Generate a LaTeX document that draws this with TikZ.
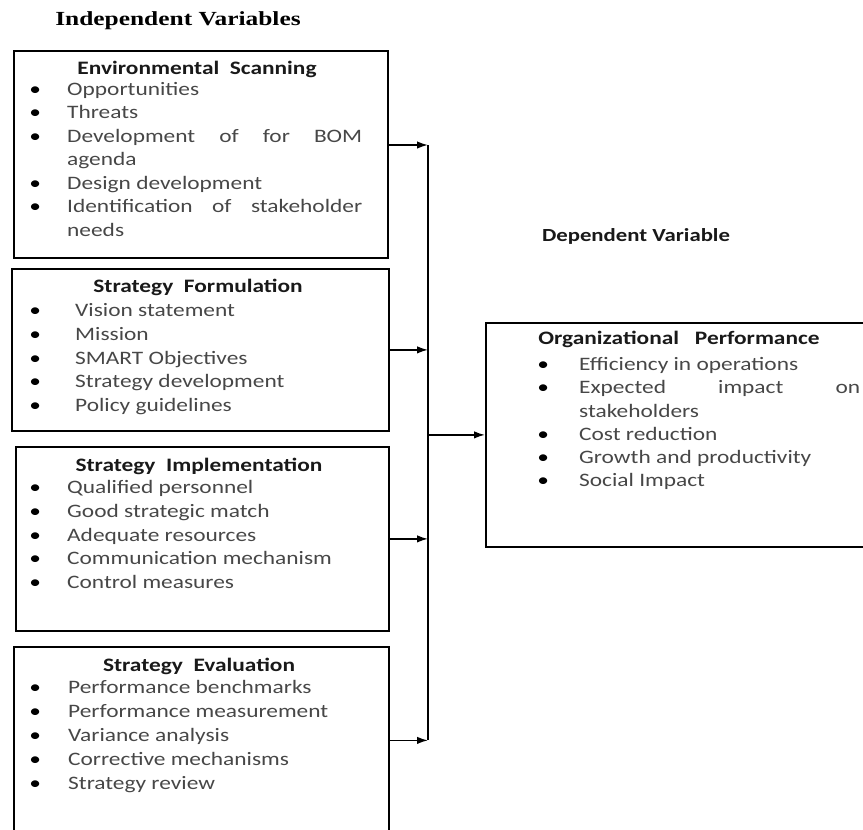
\documentclass[tikz,border=0pt]{standalone}
\usepackage{fontspec}
\newfontfamily\bodyf{Carlito}[FakeStretch=1.23]
\newfontfamily\headf{Liberation Serif}[FakeStretch=1.27]
\usetikzlibrary{arrows.meta}
\newcommand\bul[1][32pt]{\noindent\llap{\makebox[0pt]{\textcolor{black}{\textbullet}}\hspace{#1}}}
\begin{document}
\begin{tikzpicture}[x=1pt,y=-1pt,
  box/.style={draw=black, line width=1.8pt, inner sep=0pt, anchor=north west},
  items/.style={anchor=north west, inner sep=0pt, align=justify, text=black!72,
    font=\bodyf\fontsize{19}{#1}\selectfont},
  ttl/.style={anchor=base, inner sep=0pt, text=black!90, font=\bodyf\bfseries\fontsize{19}{23}\selectfont},
  conn/.style={line width=1.6pt, -{Latex[length=11pt,width=7.5pt]}},
  trunk/.style={line width=1.6pt}]
\useasboundingbox (0,0) rectangle (863,830);
\clip (0,0) rectangle (863,830);

\node[anchor=base, inner sep=0pt, font=\headf\bfseries\fontsize{20}{24}\selectfont] (iv) at (178,25) {Independent Variables};
\node[anchor=base, inner sep=0pt, text=black!90, font=\bodyf\bfseries\fontsize{18.5}{22}\selectfont] (dv) at (636,241) {Dependent Variable};

% boxes
\node[box, minimum width=374pt, minimum height=207pt] (b1) at (13,50) {};
\node[box, minimum width=377pt, minimum height=162pt] (b2) at (11,268) {};
\node[box, minimum width=373pt, minimum height=184pt] (b3) at (15,446) {};
\node[box, minimum width=375pt, minimum height=187pt] (b4) at (13,646) {};
\node[box, minimum width=385pt, minimum height=224pt] (org) at (485,322) {};

% titles
\node[ttl] (t1) at (197,74.5) {Environmental\ \ Scanning};
\node[ttl] (t2) at (198,292.5) {Strategy\ \ Formulation};
\node[ttl] (t3) at (199,471.5) {Strategy\ \ Implementation};
\node[ttl] (t4) at (199,671.5) {Strategy\ \ Evaluation};
\node[ttl] (t5) at (679,344.5) {Organizational\ \ \ Performance};

% item lists
\node[items=23.55pt, text width=295pt] (l1) at (67,80) {%
\bul\rule{0pt}{15pt}Opportunities\par
\bul Threats\par
\bul Development of for BOM\linebreak agenda\par
\bul Design development\par
\bul Identification of stakeholder\linebreak needs};

\node[items=23.75pt, text width=287pt] (l2) at (75,301.5) {%
\bul[40pt]\rule{0pt}{15pt}Vision statement\par
\bul[40pt]Mission\par
\bul[40pt]SMART Objectives\par
\bul[40pt]Strategy development\par
\bul[40pt]Policy guidelines};

\node[items=23.75pt, text width=295pt] (l3) at (67,478.5) {%
\bul\rule{0pt}{15pt}Qualified personnel\par
\bul Good strategic match\par
\bul Adequate resources\par
\bul Communication mechanism\par
\bul Control measures};

\node[items=24pt, text width=294pt] (l4) at (68,678.5) {%
\bul[33pt]\rule{0pt}{15pt}Performance benchmarks\par
\bul[33pt]Performance measurement\par
\bul[33pt]Variance analysis\par
\bul[33pt]Corrective mechanisms\par
\bul[33pt]Strategy review};

\node[items=23.2pt, text width=281pt] (l5) at (579,355.5) {%
\bul[36pt]\rule{0pt}{15pt}Efficiency in operations\par
\bul[36pt]Expected impact on\linebreak stakeholders\par
\bul[36pt]Cost reduction\par
\bul[36pt]Growth and productivity\par
\bul[36pt]Social Impact};

% connectors
\coordinate (j1) at (428,145);
\coordinate (j4) at (428,740);
\draw[trunk] (j1) -- (j4);
\draw[conn] (b1.east |- j1) -- (j1);
\draw[conn] (b2.east) -- (b2.east -| j1);
\draw[conn] (b3.east) -- (b3.east -| j1);
\draw[conn] (b4.east) -- (b4.east -| j1);
\draw[conn] (org.west -| j1) -- (org.west);
\end{tikzpicture}
\end{document}
